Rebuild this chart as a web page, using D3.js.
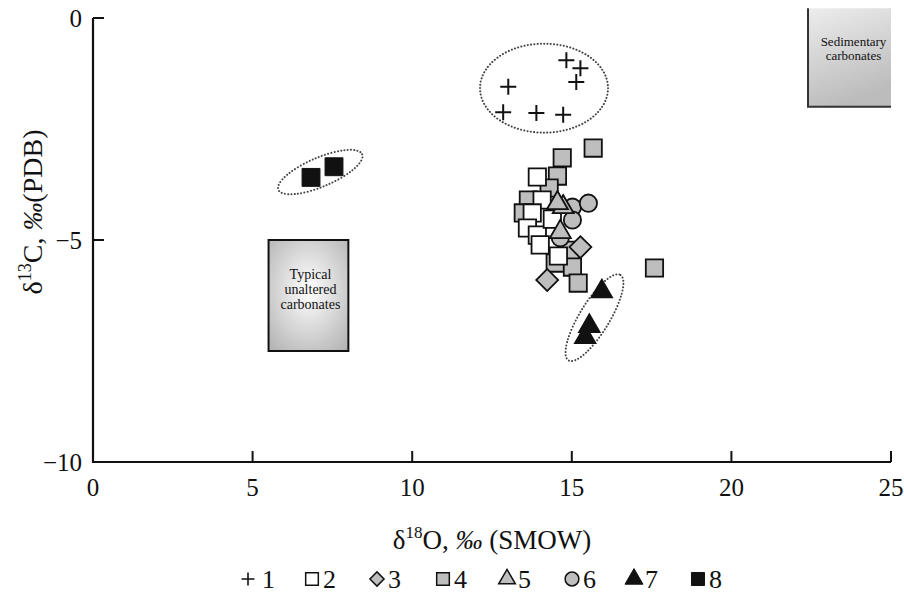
<!DOCTYPE html>
<html><head><meta charset="utf-8">
<script src="https://cdn.jsdelivr.net/npm/d3@7"></script>
<style>body{margin:0;background:#fff}svg{display:block}text{font-family:"Liberation Serif","DejaVu Serif",serif;fill:#111}</style>
</head><body>
<svg id="c" width="904" height="603"></svg>
<script>
// ---- data ----
const xTicks = [0, 5, 10, 15, 20, 25];
const yTicks = [0, -5, -10];
const yTickLabels = ["0", "\u22125", "\u221210"];
const legendLabels = ["1", "2", "3", "4", "5", "6", "7", "8"];
const group1 = [[14.83,-0.95],[15.27,-1.13],[15.14,-1.44],[13.01,-1.55],[12.85,-2.12],[13.89,-2.14],[14.73,-2.18]];
const group2 = [[13.92,-3.58],[14.07,-4.10],[13.76,-4.39],[13.61,-4.73],[13.92,-4.89],[14.39,-4.53],[14.01,-5.11],[14.58,-5.36]];
const group3 = [[15.27,-5.16],[14.23,-5.90]];
const group4 = [[15.67,-2.93],[14.70,-3.15],[14.55,-3.56],[14.29,-3.83],[13.64,-4.10],[13.48,-4.39],[14.95,-5.23],[14.48,-5.52],[15.02,-5.61],[15.20,-5.97],[17.59,-5.63]];
const group5 = [[14.73,-4.26],[14.55,-4.17],[14.64,-4.82]];
const group6 = [[14.64,-4.95],[15.02,-4.26],[15.52,-4.17],[15.02,-4.55]];
const group7 = [[15.94,-6.16],[15.55,-6.94],[15.42,-7.19]];
const group8 = [[6.83,-3.59],[7.55,-3.35]];
// fields: [x0, x1, y0, y1]
const typicalBox = [5.5, 8.0, -5.0, -7.5];
const sedimentaryBox = [22.4, 25.0, 0.22, -2.0];
// ellipses: center x, center y (data)
const ellipse1 = [14.13, -1.58];
const ellipse7 = [15.71, -6.75];
const ellipse8 = [7.12, -3.47];

// ---- chart ----
const svg = d3.select("#c");
const x = d3.scaleLinear().domain([0, 25]).range([93, 891]);
const y = d3.scaleLinear().domain([-10, 0]).range([462, 18]);
const INK = "#111", GRAY = "#bebebe";

const defs = svg.append("defs");
const rg = defs.append("radialGradient").attr("id","gTyp").attr("cx","50%").attr("cy","45%").attr("r","70%");
rg.append("stop").attr("offset","0%").attr("stop-color","#ffffff");
rg.append("stop").attr("offset","100%").attr("stop-color","#b4b4b4");
const lg = defs.append("linearGradient").attr("id","gSed").attr("x1","0").attr("y1","0").attr("x2","0.3").attr("y2","1");
lg.append("stop").attr("offset","0%").attr("stop-color","#ededed");
lg.append("stop").attr("offset","100%").attr("stop-color","#bcbcbc");

// boxes
svg.append("rect").attr("x", x(typicalBox[0])).attr("y", y(typicalBox[2]))
  .attr("width", x(typicalBox[1]) - x(typicalBox[0])).attr("height", y(typicalBox[3]) - y(typicalBox[2]))
  .attr("fill","url(#gTyp)").attr("stroke", INK).attr("stroke-width", 2);
const tcx = (x(typicalBox[0]) + x(typicalBox[1])) / 2 + 2;
[["Typical",279],["unaltered",294],["carbonates",309]].forEach(([t,yy]) =>
  svg.append("text").attr("x", tcx).attr("y", yy).attr("text-anchor","middle").attr("font-size",14).text(t));

svg.append("rect").attr("x", x(sedimentaryBox[0])).attr("y", y(sedimentaryBox[2]))
  .attr("width", x(sedimentaryBox[1]) - x(sedimentaryBox[0])).attr("height", y(sedimentaryBox[3]) - y(sedimentaryBox[2]))
  .attr("fill","url(#gSed)");
svg.append("path").attr("d", `M${x(sedimentaryBox[0])},${y(sedimentaryBox[2])}V${y(sedimentaryBox[3])}H${x(sedimentaryBox[1])}`)
  .attr("fill","none").attr("stroke", "#333").attr("stroke-width", 2);
const scx = (x(sedimentaryBox[0]) + x(sedimentaryBox[1])) / 2 + 4;
[["Sedimentary",46],["carbonates",60]].forEach(([t,yy]) =>
  svg.append("text").attr("x", scx).attr("y", yy).attr("text-anchor","middle").attr("font-size",13).text(t));

// dotted ellipses
function ell(c, rx, ry, ang) {
  svg.append("ellipse").attr("cx",0).attr("cy",0).attr("rx",rx).attr("ry",ry)
    .attr("transform", `translate(${x(c[0])},${y(c[1])}) rotate(${ang})`)
    .attr("fill","none").attr("stroke","#444").attr("stroke-width",2)
    .attr("stroke-dasharray","0.1 3.2").attr("stroke-linecap","round");
}
ell(ellipse1, 64, 44.5, 0);
ell(ellipse7, 50, 15, -58.7);
ell(ellipse8, 45.5, 14.5, -23);

// axes
const ax = svg.append("g");
ax.append("path").attr("d", `M${x(0)},${y(0)}V${y(-10)}H${x(25)}`).attr("fill","none").attr("stroke",INK).attr("stroke-width",2.2);
xTicks.forEach(t => { if (t > 0) ax.append("line").attr("x1",x(t)).attr("x2",x(t)).attr("y1",y(-10)).attr("y2",y(-10)-11).attr("stroke",INK).attr("stroke-width",2); });
yTicks.forEach(t => { ax.append("line").attr("x1",x(0)).attr("x2",x(0)+11).attr("y1",y(t)).attr("y2",y(t)).attr("stroke",INK).attr("stroke-width",2); });
xTicks.forEach(t => ax.append("text").attr("x", x(t)).attr("y", 496).attr("text-anchor","middle").attr("font-size",25).text(t));
yTicks.forEach((t,i) => ax.append("text").attr("x", 82).attr("y", y(t) + 9).attr("text-anchor","end").attr("font-size",25).text(yTickLabels[i]));

// axis titles
const xt = svg.append("text").attr("x", 492).attr("y", 549).attr("text-anchor","middle").attr("font-size",27);
xt.append("tspan").text("\u03b4");
xt.append("tspan").attr("font-size",17).attr("dy",-11).text("18");
xt.append("tspan").attr("dy",11).text("O, ");
xt.append("tspan").attr("font-style","italic").text("\u2030");
xt.append("tspan").text(" (SMOW)");
const yt = svg.append("text").attr("transform","translate(42,212) rotate(-90)").attr("text-anchor","middle").attr("font-size",28);
yt.append("tspan").text("\u03b4");
yt.append("tspan").attr("font-size",18).attr("dy",-11).text("13");
yt.append("tspan").attr("dy",11).text("C, ");
yt.append("tspan").attr("font-style","italic").text("\u2030");
yt.append("tspan").text("(PDB)");

// markers
const sq = d3.symbol().type(d3.symbolSquare);
const tri = d3.symbol().type(d3.symbolTriangle);
const circ = d3.symbol().type(d3.symbolCircle);
const plusPath = s => `M${-s},0H${s}M0,${-s}V${s}`;
const styles = {
  1: {path: plusPath(8), fill:"none", stroke:INK, sw:2, rot:0},
  2: {path: sq.size(300)(), fill:"#fff", stroke:INK, sw:1.8, rot:0},
  3: {path: sq.size(240)(), fill:GRAY, stroke:INK, sw:1.8, rot:45},
  4: {path: sq.size(300)(), fill:GRAY, stroke:INK, sw:1.8, rot:0},
  5: {path: tri.size(190)(), fill:GRAY, stroke:INK, sw:1.8, rot:0},
  6: {path: circ.size(235)(), fill:GRAY, stroke:INK, sw:1.8, rot:0},
  7: {path: tri.size(200)(), fill:INK, stroke:INK, sw:1.2, rot:0},
  8: {path: sq.size(320)(), fill:INK, stroke:INK, sw:1, rot:0}
};
const groups = {1:group1,2:group2,3:group3,4:group4,5:group5,6:group6,7:group7,8:group8};
[4,2,6,5,3,7,8,1].forEach(k => {
  const st = styles[k];
  svg.append("g").selectAll("path").data(groups[k]).join("path")
    .attr("d", st.path)
    .attr("transform", d => `translate(${x(d[0])},${y(d[1])}) rotate(${st.rot})`)
    .attr("fill", st.fill).attr("stroke", st.stroke).attr("stroke-width", st.sw);
});

// legend
const legStyles = {
  1: {path: plusPath(6.5), fill:"none", stroke:INK, sw:1.6, rot:0},
  2: {path: sq.size(160)(), fill:"#fff", stroke:INK, sw:1.5, rot:0},
  3: {path: sq.size(100)(), fill:GRAY, stroke:INK, sw:1.5, rot:45},
  4: {path: sq.size(160)(), fill:GRAY, stroke:INK, sw:1.5, rot:0},
  5: {path: tri.size(120)(), fill:GRAY, stroke:INK, sw:1.5, rot:0},
  6: {path: circ.size(150)(), fill:GRAY, stroke:INK, sw:1.5, rot:0},
  7: {path: tri.size(140)(), fill:INK, stroke:INK, sw:1, rot:0},
  8: {path: sq.size(170)(), fill:INK, stroke:INK, sw:1, rot:0}
};
const legX = [248, 312, 377, 443, 507, 572, 634, 698];
const legY = 579;
legendLabels.forEach((lab, i) => {
  const st = legStyles[i+1];
  svg.append("path").attr("d", st.path).attr("transform", `translate(${legX[i]},${legY}) rotate(${st.rot})`)
    .attr("fill", st.fill).attr("stroke", st.stroke).attr("stroke-width", st.sw);
  svg.append("text").attr("x", legX[i] + (i === 0 ? 14 : 11)).attr("y", legY + 9).attr("font-size",26).text(lab);
});
</script>
</body></html>
